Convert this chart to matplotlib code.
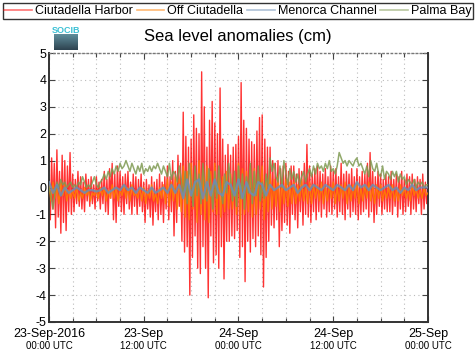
import numpy as np
import matplotlib
matplotlib.use("Agg")
import matplotlib.pyplot as plt
from matplotlib.transforms import blended_transform_factory

plt.rcParams['font.family'] = ['Liberation Sans', 'DejaVu Sans']

# ---------------- data (cm), hours since 23-Sep-2016 00:00 UTC ----------------
# Ciutadella Harbor, 10-minute samples
harbor = [
    0.3, -1.2, 1.1, -0.8, 0.9, -1.5,
    1.4, -1.1, 0.6, -1.7, 1.2, -1.3,
    1.0, -1.6, 0.8, -0.9, 1.3, -1.0,
    0.5, -0.9, 0.3, -0.6, 0.6, -0.7,
    0.4, -0.8, 0.2, -0.9, 0.5, -0.5,
    0.3, -0.7, 0.4, -0.6, 0.1, -0.8,
    0.4, -0.5, 0.2, -0.8, 0.3, -0.6,
    0.6, -0.9, 0.3, -1.0, 0.7, -0.4,
    0.9, -1.2, 0.5, -1.3, 0.8, -0.7,
    0.6, -0.9, 0.4, -1.0, 0.5, -0.6,
    0.6, -0.8, 0.2, -1.0, 0.5, -0.7,
    0.4, -1.0, 0.3, -0.7, 0.5, -0.9,
    0.2, -1.3, 0.3, -0.8, 0.1, -1.1,
    0.4, -1.4, 0.2, -0.9, 0.3, -1.2,
    0.5, -1.0, 0.2, -1.3, 0.4, -0.8,
    0.8, -1.2, 0.4, -0.9, 1.0, -1.8,
    0.6, -1.3, 1.2, -0.7, 0.9, -2.0,
    2.8, -2.4, 1.9, -2.2, 1.5, -4.0,
    1.8, -2.6, 2.7, -1.8, 2.2, -3.0,
    2.0, -3.2, 4.3, -2.2, 3.0, -3.0,
    1.5, -4.1, 2.5, -1.8, 3.2, -2.8,
    2.4, -2.5, 2.0, -3.0, 3.7, -2.2,
    1.8, -3.4, 1.2, -2.0, 1.6, -2.0,
    1.2, -1.8, 1.5, -1.9, 1.6, -1.6,
    1.9, -2.6, 3.9, -2.2, 2.5, -3.5,
    2.2, -2.0, 1.8, -2.4, 1.7, -1.9,
    1.6, -2.2, 2.1, -1.8, 2.6, -2.5,
    2.7, -3.7, 1.8, -2.6, 1.5, -2.0,
    1.5, -1.4, 1.0, -1.5, 0.9, -1.2,
    1.0, -2.2, 0.7, -1.6, 0.8, -1.3,
    0.9, -1.4, 0.6, -1.7, 0.8, -1.0,
    0.8, -1.2, 0.5, -1.5, 0.7, -0.9,
    0.6, -1.4, 0.9, -1.0, 1.6, -1.1,
    0.8, -1.3, 0.5, -0.9, 0.7, -1.2,
    0.8, -0.9, 0.6, -1.1, 0.5, -0.8,
    0.7, -1.1, 0.4, -0.9, 0.8, -1.0,
    0.6, -0.8, 0.7, -1.1, 0.4, -0.9,
    0.9, -1.0, 0.5, -1.2, 0.6, -0.8,
    0.5, -1.1, 0.7, -0.9, 0.4, -1.0,
    0.7, -1.2, 0.4, -1.0, 0.6, -0.9,
    0.5, -0.8, 0.9, -1.1, 1.3, -0.9,
    0.6, -1.3, 0.4, -1.0, 0.6, -0.7,
    0.5, -1.0, 0.3, -0.8, 0.5, -0.9,
    0.4, -0.9, 0.6, -1.0, 0.3, -0.7,
    0.5, -1.1, 0.4, -0.8, 0.6, -1.0,
    0.3, -0.9, 0.5, -0.7, 0.4, -1.0,
    0.5, -0.8, 0.3, -0.9, 0.4, -0.6,
    0.3, -1.0, 0.5, -0.8, 0.2, -0.6,
    -0.1,
]

# Off Ciutadella, 15-minute samples
off_ciutadella = [
    0.1, -0.5, 0.2, -0.4,  0.0, -0.6, 0.2, -0.3,  0.1, -0.5, -0.1, -0.4,
    -0.1, -0.4, 0.0, -0.5,  -0.2, -0.4, 0.0, -0.3,  -0.1, -0.5, -0.2, -0.3,
    -0.1, -0.4, 0.0, -0.3,  0.0, -0.5, -0.1, -0.4,  0.1, -0.4, 0.0, -0.5,
    -0.1, -0.3, 0.1, -0.4,  0.0, -0.5, 0.1, -0.3,  -0.2, -0.4, 0.0, -0.5,
    0.0, -0.6, -0.1, -0.4,  0.1, -0.5, -0.2, -0.6,  0.0, -0.4, 0.1, -0.6,
    0.3, -0.7, 0.2, -0.5,  0.4, -0.8, 0.3, -0.9,  0.8, -1.1, 0.6, -1.2,
    0.9, -0.8, 0.5, -1.3,  1.0, -1.0, 0.7, -1.2,  0.8, -1.3, 0.6, -0.9,
    0.9, -1.0, 0.5, -1.1,  0.4, -0.9, 0.6, -0.8,  0.5, -0.8, 0.3, -1.0,
    0.9, -1.2, 0.7, -1.0,  0.6, -0.9, 0.8, -1.1,  0.7, -1.0, 0.5, -0.8,
    0.8, -1.2, 0.4, -0.9,  0.5, -0.8, 0.3, -0.7,  0.4, -0.9, 0.3, -0.6,
    0.3, -0.7, 0.2, -0.6,  0.2, -0.6, 0.1, -0.5,  0.3, -0.5, 0.0, -0.6,
    0.2, -0.6, 0.1, -0.4,  0.1, -0.5, 0.2, -0.6,  0.0, -0.5, 0.1, -0.4,
    0.2, -0.6, 0.0, -0.5,  0.1, -0.4, 0.2, -0.6,  0.0, -0.5, 0.1, -0.4,
    0.2, -0.6, 0.0, -0.5,  0.1, -0.4, 0.2, -0.5,  0.0, -0.6, 0.1, -0.4,
    0.1, -0.5, -0.1, -0.4,  0.0, -0.4, 0.1, -0.5,  -0.1, -0.5, 0.1, -0.3,
    0.0, -0.4, -0.1, -0.5,  0.1, -0.3, 0.0, -0.4,  -0.1, -0.4, 0.0, -0.3,
    -0.2,
]

# Menorca Channel, 30-minute samples
menorca = [
    0.2, -0.2, 0.1, -0.3, 0.0, -0.2, -0.1, 0.0, -0.1, -0.2, -0.1, -0.1,
    -0.15, -0.1, 0.0, -0.2, -0.1, 0.0, -0.1, 0.1, -0.1, 0.0, -0.2, 0.0,
    -0.1, -0.2, 0.0, -0.2, -0.1, 0.0, -0.2, 0.1, -0.2, 0.1, -0.4, 0.3,
    -0.3, 0.2, 0.3, -0.4, 0.2, -0.3, 0.3, -0.2, -0.3, 0.2, 0.1, -0.3,
    0.3, -0.4, 0.2, -0.2, -0.3, 0.2, 0.1, -0.3, 0.1, -0.1, 0.0, 0.1,
    -0.1, 0.0, 0.1, -0.2, 0.0, 0.1, -0.1, 0.1, 0.0, -0.1, 0.1, 0.0,
    -0.1, 0.1, 0.0, -0.1, 0.1, -0.1, 0.2, 0.0, 0.1, -0.1, 0.1, 0.0,
    -0.1, 0.0, 0.1, -0.1, 0.0, -0.2, 0.0, -0.1, 0.1, -0.1, 0.0, 0.0,
    0.0,
]

# Palma Bay, 15-minute samples
palma = [
    0.0, -0.3, -0.8, -0.2,  0.2, 0.0, 0.3, 0.1,  0.2, 0.0, 0.1, 0.2,
    0.0, 0.1, 0.0, 0.2,  0.1, 0.4, 0.2, 0.0,  0.1, 0.0, 0.2, 0.4,
    0.1, 0.0, 0.2, 0.3,  0.5, 0.3, 0.6, 0.4,  0.7, 0.5, 0.8, 0.6,
    0.9, 0.7, 0.8, 1.0,  0.8, 0.6, 0.9, 0.7,  0.5, 0.8, 0.6, 0.9,
    0.5, 0.7, 0.6, 0.8,  0.6, 0.8, 0.7, 0.9,  0.7, 0.5, 0.8, 0.6,
    0.4, 0.9, 0.3, 0.6,  0.5, 0.2, 0.8, 0.3,  -0.3, 0.6, -0.6, 0.9,
    0.2, -0.7, 0.8, -0.3,  0.5, -0.6, 0.9, 0.0,  -0.5, 0.7, 0.1, -0.8,
    0.6, -0.4, 0.8, 0.0,  -0.6, 0.5, -0.2, 0.9,  0.3, -0.5, 0.6, -0.7,
    0.8, -0.4, 0.5, -0.8,  0.4, -0.2, 0.9, -0.6,  0.6, -0.3, 0.8, -0.5,
    0.2, -0.4, 0.5, 0.0,  1.1, 0.6, 0.9, 0.4,  0.2, 0.8, 0.0, 1.0,
    0.5, 0.1, 0.7, 0.3,  0.6, 0.2, 0.5, 0.1,  0.4, 0.6, 0.2, 0.5,
    0.7, 0.4, 0.8, 0.5,  0.9, 0.7, 0.8, 0.6,  0.9, 0.7, 1.0, 0.6,
    0.7, 0.5, 0.8, 1.3,  1.1, 0.9, 1.0, 0.8,  1.0, 0.9, 0.8, 1.0,
    1.1, 0.8, 0.9, 0.7,  0.5, 0.8, 0.4, 1.0,  0.7, 0.6, 0.9, 0.5,
    0.4, 0.8, 0.3, 0.6,  0.5, 0.3, 0.6, 0.4,  0.6, 0.2, 0.5, 0.3,
    0.4, 0.1, 0.3, 0.2,  0.1, 0.3, 0.0, 0.2,  0.1, 0.2, 0.0, 0.1,
    0.1,
]

series_names = ["Ciutadella Harbor", "Off Ciutadella", "Menorca Channel", "Palma Bay"]
tick_hours = [0, 12, 24, 36, 48]
tick_line1 = ["23-Sep-2016", "23-Sep", "24-Sep", "24-Sep", "25-Sep"]
tick_line2 = ["00:00 UTC", "12:00 UTC", "00:00 UTC", "12:00 UTC", "00:00 UTC"]
y_ticks = [-5, -4, -3, -2, -1, 0, 1, 2, 3, 4, 5]


def hours_for(vals, total=48.0):
    return np.linspace(0, total, len(vals))


W, H = 476, 359
fig = plt.figure(figsize=(W / 100, H / 100), dpi=100)
ax = fig.add_axes([49 / W, 1 - 322 / H, (428 - 49) / W, (322 - 53) / H])

colors = ["#ff0000", "#ff7f00", "#6b8fb5", "#7f9a52"]
h_red, = ax.plot(hours_for(harbor), harbor, color=colors[0], lw=1.0, alpha=0.8, zorder=2)
h_or, = ax.plot(hours_for(off_ciutadella), off_ciutadella, color=colors[1], lw=1.0, alpha=0.85, zorder=3)
h_gr, = ax.plot(hours_for(palma), palma, color=colors[3], lw=1.1, alpha=0.85, zorder=4)
h_bl, = ax.plot(hours_for(menorca), menorca, color=colors[2], lw=1.6, alpha=0.85, zorder=5)

ax.set_xlim(0, 48)
ax.set_ylim(-5, 5)
ax.set_yticks(y_ticks)
ax.set_yticklabels([str(v) for v in y_ticks], fontsize=9)
ax.set_xticks(tick_hours)
ax.set_xticks(np.arange(0, 49, 3), minor=True)
ax.set_xticklabels([])
ax.grid(True, which='both', axis='x', linestyle=(0, (1, 3)), color='#bbbbbb', lw=0.8)
ax.grid(True, which='major', axis='y', linestyle=(0, (1, 3)), color='#bbbbbb', lw=0.8)
ax.tick_params(axis='both', which='both', direction='in', top=True, right=True,
               length=4, width=0.8, color='#444444', pad=2)
ax.tick_params(axis='x', which='minor', length=3)
for s in ['left', 'right', 'bottom']:
    ax.spines[s].set_color('#333333')
    ax.spines[s].set_linewidth(1.4)
ax.spines['top'].set_color('#777777')
ax.spines['top'].set_linestyle((0, (1, 2)))
ax.spines['top'].set_linewidth(1.0)

trans = blended_transform_factory(ax.transData, fig.transFigure)
for hx, l1, l2 in zip(tick_hours, tick_line1, tick_line2):
    ax.text(hx, 1 - 334 / H, l1, transform=trans, ha='center', va='center', fontsize=9, clip_on=False)
    ax.text(hx, 1 - 346 / H, l2, transform=trans, ha='center', va='center', fontsize=7, clip_on=False)

fig.text(238 / W, 1 - 36 / H, "Sea level anomalies (cm)", ha='center', va='center', fontsize=12)

leg = fig.legend([h_red, h_or, h_bl, h_gr], series_names, loc='upper center',
                 bbox_to_anchor=(0.5, 1 - 3 / H), ncol=4, fontsize=9, frameon=True,
                 fancybox=False, edgecolor='black', handlelength=2.2, columnspacing=0.3,
                 handletextpad=0.25, borderpad=0.15, borderaxespad=0)
leg.get_frame().set_linewidth(1.0)
for lh in leg.legend_handles:
    lh.set_alpha(0.55)
    lh.set_linewidth(1.2)

# SOCIB logo
lax = fig.add_axes([54 / W, 1 - 50 / H, 24 / W, 16 / H])
grad = np.linspace(0, 1, 32).reshape(-1, 1)
lax.imshow(grad, aspect='auto', cmap=matplotlib.colors.LinearSegmentedColormap.from_list(
    'socib', ['#5f8e9c', '#2e4350']))
lax.axis('off')
fig.text(66 / W, 1 - 30.5 / H, "SOCIB", ha='center', va='center', fontsize=6.5,
         color='#3cc0d4', fontweight='bold')

fig.savefig("out.png", dpi=100)
